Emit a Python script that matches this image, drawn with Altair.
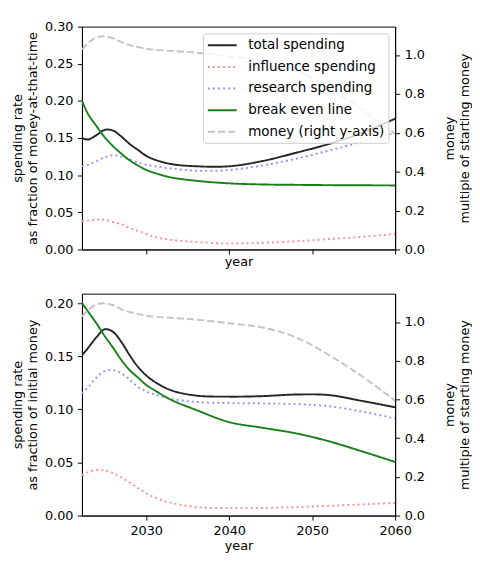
import altair as alt
import pandas as pd

years = [2022.25, 2023, 2024, 2025, 2026, 2027, 2028, 2029, 2030, 2031, 2033, 2036,
         2040, 2044, 2048, 2052, 2056, 2060]

# top panel: spending as fraction of money-at-that-time
top_total = [0.150, 0.148, 0.154, 0.161, 0.160, 0.152, 0.142, 0.134, 0.126, 0.121, 0.115, 0.112,
             0.112, 0.119, 0.130, 0.142, 0.157, 0.176]
top_influence = [0.038, 0.039, 0.040, 0.040, 0.037, 0.034, 0.029, 0.025, 0.021, 0.017, 0.013, 0.010,
                 0.008, 0.009, 0.011, 0.014, 0.017, 0.021]
top_research = [0.112, 0.114, 0.119, 0.124, 0.127, 0.125, 0.121, 0.117, 0.114, 0.112, 0.109, 0.106,
                0.107, 0.113, 0.122, 0.133, 0.145, 0.157]
top_breakeven = [0.200, 0.182, 0.166, 0.151, 0.139, 0.129, 0.120, 0.113, 0.107, 0.103, 0.097, 0.0925,
                 0.089, 0.0875, 0.087, 0.0866, 0.0864, 0.0862]

# bottom panel: spending as fraction of initial money
bot_total = [0.151, 0.158, 0.168, 0.1755, 0.173, 0.1635, 0.151, 0.140, 0.132, 0.126, 0.118, 0.113,
             0.112, 0.1125, 0.114, 0.1135, 0.108, 0.102]
bot_influence = [0.038, 0.041, 0.043, 0.0425, 0.040, 0.036, 0.031, 0.026, 0.021, 0.017, 0.012, 0.008,
                 0.007, 0.0072, 0.008, 0.0092, 0.0105, 0.012]
bot_research = [0.115, 0.121, 0.130, 0.136, 0.137, 0.134, 0.128, 0.121, 0.117, 0.114, 0.110, 0.107,
                0.106, 0.1057, 0.105, 0.103, 0.098, 0.0915]
bot_breakeven = [0.200, 0.192, 0.181, 0.169, 0.158, 0.1465, 0.137, 0.130, 0.123, 0.118, 0.109, 0.0995,
                 0.088, 0.0827, 0.0775, 0.070, 0.0605, 0.0505]

# money (right axis), multiple of starting money
money = [1.028, 1.063, 1.092, 1.097, 1.087, 1.067, 1.052, 1.042, 1.033, 1.028, 1.022, 1.013,
         0.994, 0.972, 0.922, 0.830, 0.720, 0.594]

series_names = ["total spending", "influence spending", "research spending",
                "break even line", "money (right y-axis)"]
series_colors = ["#262626", "#ff8f8f", "#8f8fff", "#1a7f1a", "#c4c4c4"]
series_dashes = [[1, 0], [2, 3.3], [2, 3.3], [1, 0], [7.4, 3.2]]

x_ticks = [2030, 2040, 2050, 2060]
left_ticks_top = [0.0, 0.05, 0.10, 0.15, 0.20, 0.25, 0.30]
left_ticks_bot = [0.0, 0.05, 0.10, 0.15, 0.20]
right_ticks = [0.0, 0.2, 0.4, 0.6, 0.8, 1.0]

FONT = "DejaVu Sans"
FS = 13.3


def long_frame(cols):
    rows = []
    for name, vals in cols:
        for y, v in zip(years, vals):
            rows.append({"year": y, "value": v, "series": name})
    return pd.DataFrame(rows)


color_scale = alt.Scale(domain=series_names, range=series_colors)
dash_scale = alt.Scale(domain=series_names, range=series_dashes)


def make_legend():
    return alt.Legend(title=None, orient="top-right", offset=7,
                      symbolType="M-1,0H3", symbolSize=225, symbolStrokeWidth=2,
                      labelFont=FONT, labelFontSize=14, labelColor="black",
                      labelOffset=26, labelLimit=300, rowPadding=6.5,
                      fillColor="rgba(255,255,255,0.8)", strokeColor="#cccccc",
                      cornerRadius=3, padding=4)


def panel(spend_cols, left_domain, left_ticks, left_title, height, bottom_axis, show_legend):
    df_s = long_frame(spend_cols)
    df_m = long_frame([("money (right y-axis)", money)])
    leg = make_legend() if show_legend else None
    xenc = alt.X("year:Q",
                 scale=alt.Scale(domain=[2022.25, 2060], nice=False, zero=False),
                 axis=alt.Axis(values=x_ticks, labels=bottom_axis, format="d", title="year",
                               labelFlush=False, labelPadding=3.5,
                               titlePadding=2.5 if bottom_axis else 1))
    cenc_kwargs = {"scale": color_scale, "legend": leg}
    denc_kwargs = {"scale": dash_scale, "legend": leg}
    left = alt.Chart(df_s).mark_line(interpolate="catmull-rom", strokeWidth=2, clip=True).encode(
        x=xenc,
        y=alt.Y("value:Q", scale=alt.Scale(domain=left_domain, nice=False, zero=False),
                axis=alt.Axis(values=left_ticks, format=".2f", title=left_title,
                              titleLineHeight=16, titlePadding=5.3)),
        color=alt.Color("series:N", **cenc_kwargs),
        strokeDash=alt.StrokeDash("series:N", **denc_kwargs),
        detail="series:N",
    )
    right = alt.Chart(df_m).mark_line(interpolate="catmull-rom", strokeWidth=2, clip=True).encode(
        x=xenc,
        y=alt.Y("value:Q", scale=alt.Scale(domain=[0, 1.147], nice=False, zero=False),
                axis=alt.Axis(orient="right", values=right_ticks, format=".1f",
                              title=["money", "multiple of starting money"],
                              titleAngle=270, titleBaseline="top",
                              titleLineHeight=16, titlePadding=3)),
        color=alt.Color("series:N", **cenc_kwargs),
        strokeDash=alt.StrokeDash("series:N", **denc_kwargs),
    )
    return alt.layer(left, right).resolve_scale(y="independent").properties(width=326, height=height)


top = panel([("total spending", top_total), ("influence spending", top_influence),
             ("research spending", top_research), ("break even line", top_breakeven)],
            [0, 0.30], left_ticks_top, ["spending rate", "as fraction of money-at-that-time"],
            232, False, True)
bottom = panel([("total spending", bot_total), ("influence spending", bot_influence),
                ("research spending", bot_research), ("break even line", bot_breakeven)],
               [0, 0.209], left_ticks_bot, ["spending rate", "as fraction of initial money"],
               231, True, False)

chart = alt.vconcat(top, bottom, spacing=25).resolve_scale(
    color="independent", strokeDash="independent"
).properties(
    padding={"left": 2, "top": 0, "right": 0, "bottom": 0}, background="white"
).configure_axis(
    labelFont=FONT, titleFont=FONT, labelFontSize=FS, titleFontSize=FS,
    titleFontWeight="normal", labelColor="black", titleColor="black",
    domainColor="black", tickColor="black", tickSize=4.7, labelPadding=4.7,
    grid=False, labelFlush=False,
).configure_view(stroke="black", strokeWidth=1, fill="white")

chart.save("out.html", embed_options={"renderer": "svg", "actions": False})
